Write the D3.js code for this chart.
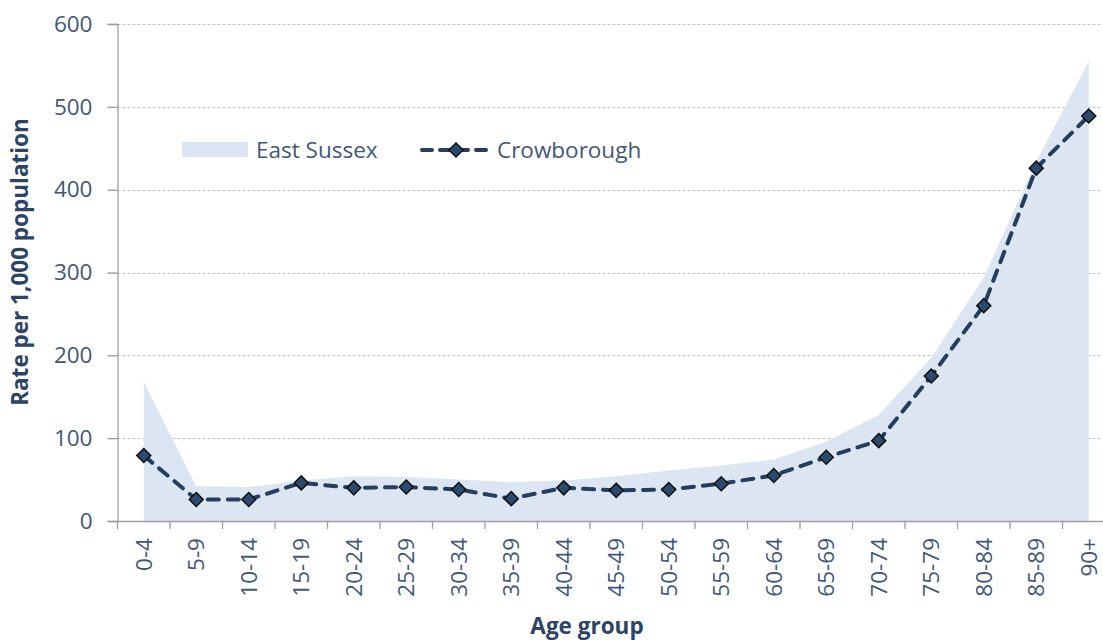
<!DOCTYPE html>
<html>
<head>
<meta charset="utf-8">
<script src="https://cdn.jsdelivr.net/npm/d3@7"></script>
<style>
  body { margin: 0; background: #fff; }
  svg { display: block; font-family: "Open Sans", sans-serif; }
</style>
</head>
<body>
<svg id="chart" width="1103" height="640"></svg>
<script>
// age bands on the x axis
let ageGroups = ['0-4', '5-9', '10-14', '15-19', '20-24', '25-29', '30-34', '35-39', '40-44',
  '45-49', '50-54', '55-59', '60-64', '65-69', '70-74', '75-79', '80-84', '85-89', '90+'];

// rate per 1,000 population
let eastSussex = [168, 42, 41, 49, 54, 53, 50, 47, 49, 54, 61, 67, 74, 96, 128, 197, 294, 434, 555];
let crowborough = [79, 26, 26, 46, 40, 41, 38, 27, 40, 37, 38, 45, 55, 77, 97, 175, 260, 426, 489];

let yTicks = [0, 100, 200, 300, 400, 500, 600];

let svg = d3.select('#chart');
let m = {l: 117.5, t: 24, b: 521};
let font = '"Open Sans", sans-serif';

let xScale = d3.scaleBand()
  .domain(ageGroups)
  .range([m.l, m.l + 52.5 * ageGroups.length]);

let yScale = d3.scaleLinear()
  .domain([0, 600])
  .range([m.b, m.t]);

let cx = d => xScale(d) + xScale.bandwidth() / 2;

// gridlines
svg.append('g')
  .selectAll('line')
  .data(yTicks.filter(d => d > 0))
  .join('line')
  .attr('x1', m.l - 10)
  .attr('x2', 1103)
  .attr('y1', d => Math.round(yScale(d)) + 0.5)
  .attr('y2', d => Math.round(yScale(d)) + 0.5)
  .attr('stroke', '#c4c4c4')
  .attr('stroke-width', 1)
  .attr('stroke-dasharray', '3,2');

// East Sussex area
let area = d3.area()
  .x((d, i) => cx(ageGroups[i]))
  .y0(yScale(0))
  .y1(d => yScale(d));

svg.append('path')
  .datum(eastSussex)
  .attr('d', area)
  .attr('fill', '#dce6f2');

// axes
let yAxis = svg.append('g')
  .attr('transform', `translate(${m.l},0)`)
  .call(d3.axisLeft(yScale).tickValues(yTicks).tickSize(10).tickPadding(15));

let xAxis = svg.append('g')
  .attr('transform', `translate(0,${m.b})`)
  .call(d3.axisBottom(xScale).tickSize(0).tickPadding(0));

// tick marks between categories
svg.append('g')
  .selectAll('line')
  .data(d3.range(ageGroups.length + 1))
  .join('line')
  .attr('x1', i => m.l + i * xScale.step())
  .attr('x2', i => m.l + i * xScale.step())
  .attr('y1', m.b)
  .attr('y2', m.b + 8)
  .attr('stroke', '#9e9e9e')
  .attr('stroke-width', 1.3);

[yAxis, xAxis].forEach(a => {
  a.select('.domain').attr('stroke', '#9e9e9e').attr('stroke-width', 1.3);
  a.selectAll('.tick line').attr('stroke', '#9e9e9e').attr('stroke-width', 1.3);
  a.selectAll('text').attr('fill', '#3f5877').attr('font-size', 22.5).attr('font-family', font);
});
xAxis.select('.domain').attr('d', `M${m.l},0.5H1103`);

xAxis.selectAll('.tick text')
  .attr('transform', 'rotate(-90)')
  .attr('text-anchor', 'end')
  .attr('x', -17)
  .attr('y', 0)
  .attr('dy', '0.36em');

// axis titles
svg.append('text')
  .attr('transform', 'translate(28,262) rotate(-90)')
  .attr('text-anchor', 'middle')
  .attr('font-size', 22.5)
  .attr('font-weight', 'bold')
  .attr('fill', '#2c4466')
  .text('Rate per 1,000 population');

svg.append('text')
  .attr('x', 587)
  .attr('y', 634)
  .attr('text-anchor', 'middle')
  .attr('font-size', 22.5)
  .attr('font-weight', 'bold')
  .attr('fill', '#2c4466')
  .text('Age group');

// Crowborough dashed line + diamonds
let line = d3.line()
  .x((d, i) => cx(ageGroups[i]))
  .y(d => yScale(d));

svg.append('path')
  .datum(crowborough)
  .attr('d', line)
  .attr('fill', 'none')
  .attr('stroke', '#253e5e')
  .attr('stroke-width', 4)
  .attr('stroke-dasharray', '11,9')
  .attr('stroke-linecap', 'round');

let diamond = 'M0,-7L7,0L0,7L-7,0Z';

svg.append('g')
  .selectAll('path')
  .data(crowborough)
  .join('path')
  .attr('d', diamond)
  .attr('transform', (d, i) => `translate(${cx(ageGroups[i])},${yScale(d)})`)
  .attr('fill', '#2b4a6f')
  .attr('stroke', '#111')
  .attr('stroke-width', 1.5);

// legend
let legend = svg.append('g');
legend.append('rect')
  .attr('x', 182).attr('y', 142)
  .attr('width', 66).attr('height', 15)
  .attr('fill', '#dce6f2');
legend.append('text')
  .attr('x', 256).attr('y', 158)
  .attr('font-size', 22.5).attr('fill', '#3f5877')
  .text('East Sussex');
legend.append('line')
  .attr('x1', 422).attr('x2', 492)
  .attr('y1', 150).attr('y2', 150)
  .attr('stroke', '#253e5e')
  .attr('stroke-width', 4)
  .attr('stroke-dasharray', '10,8')
  .attr('stroke-linecap', 'round');
legend.append('path')
  .attr('d', diamond)
  .attr('transform', 'translate(456,150)')
  .attr('fill', '#2b4a6f')
  .attr('stroke', '#111')
  .attr('stroke-width', 1.5);
legend.append('text')
  .attr('x', 497).attr('y', 158)
  .attr('font-size', 22.5).attr('fill', '#3f5877')
  .text('Crowborough');
</script>
</body>
</html>
